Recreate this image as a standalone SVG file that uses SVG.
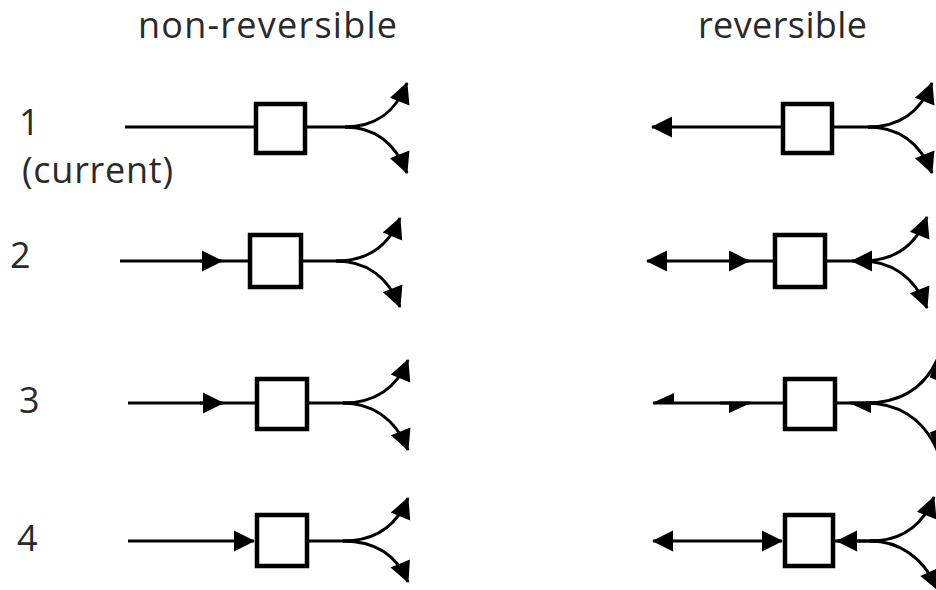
<svg xmlns="http://www.w3.org/2000/svg" width="936" height="590" viewBox="0 0 936 590">
<style>
.t{font-family:"Open Sans","Liberation Sans",sans-serif;font-size:36px;fill:#2a2a2a}
.l{fill:none;stroke:#000;stroke-width:3}
.a{marker-end:url(#arr)}
.p{marker-end:url(#halfP)}
.n{marker-end:url(#halfN)}
.box{fill:#fff;stroke:#000;stroke-width:4.5}
</style>
<defs>
<marker id="arr" markerUnits="userSpaceOnUse" markerWidth="24" markerHeight="24" refX="20" refY="10.5" orient="auto" overflow="visible"><path d="M0,0 L21,10.5 L0,21 z" fill="#000"/></marker>
<marker id="halfP" markerUnits="userSpaceOnUse" markerWidth="24" markerHeight="24" refX="21" refY="10" orient="auto" overflow="visible"><path d="M0,10 L22,10 L0,20 z" fill="#000"/></marker>
<marker id="halfN" markerUnits="userSpaceOnUse" markerWidth="24" markerHeight="24" refX="21" refY="10" orient="auto" overflow="visible"><path d="M0,10 L22,10 L0,0 z" fill="#000"/></marker>
</defs>
<rect width="936" height="590" fill="#fff"/>
<g id="labels">
<text class="t" x="138" y="38" textLength="259">non-reversible</text>
<text class="t" x="698" y="38" textLength="169">reversible</text>
<text class="t" x="19" y="135">1</text>
<text class="t" x="22" y="183" textLength="151">(current)</text>
<text class="t" x="10" y="268">2</text>
<text class="t" x="19" y="413">3</text>
<text class="t" x="17" y="551">4</text>
</g>
<g id="connectors">
<!-- row 1 left -->
<path class="l" d="M125 127 L260 127"/>
<path class="l" d="M300 127 L355 127"/>
<path class="l a" d="M345 127 C372 127,394 116,407 83"/>
<path class="l a" d="M345 127 C372 127,394 140,407 173"/>
<!-- row 1 right -->
<path class="l a" d="M790 127 L652 127"/>
<path class="l" d="M828 127 L878 127"/>
<path class="l a" d="M868 127 C896 127,919 116,932 83"/>
<path class="l a" d="M868 127 C896 127,919 140,932 173"/>
<!-- row 2 left -->
<path class="l" d="M120 261 L255 261"/>
<path class="l a" d="M200 261 L222 261"/>
<path class="l" d="M296 261 L346 261"/>
<path class="l a" d="M336 261 C363 261,387 250,400 218"/>
<path class="l a" d="M336 261 C363 261,387 274,400 307"/>
<!-- row 2 right -->
<path class="l a" d="M700 261 L647 261"/>
<path class="l a" d="M700 261 L749 261"/>
<path class="l" d="M745 261 L780 261"/>
<path class="l" d="M820 261 L873 261"/>
<path class="l a" d="M873 261 L852 261"/>
<path class="l a" d="M862 261 C889 261,914 250,927 217"/>
<path class="l a" d="M862 261 C889 261,914 275,927 308"/>
<!-- row 3 left -->
<path class="l" d="M128 403 L262 403"/>
<path class="l a" d="M200 403 L223 403"/>
<path class="l" d="M302 403 L352 403"/>
<path class="l a" d="M343 403 C370 403,395 392,408 360"/>
<path class="l a" d="M343 403 C370 403,395 417,408 450"/>
<!-- row 3 right -->
<path class="l p" d="M720 403 L653 403"/>
<path class="l" d="M720 403 L790 403"/>
<path class="l p" d="M720 403 L750 403"/>
<path class="l" d="M830 403 L878 403"/>
<path class="l n" d="M878 403 L850 403"/>
<path class="l p" d="M866 403 C895 403,923 392,938 358"/>
<path class="l n" d="M866 403 C895 403,923 416,938 452"/>
<!-- row 4 left -->
<path class="l a" d="M128 541 L254 541"/>
<path class="l" d="M302 541 L352 541"/>
<path class="l a" d="M343 541 C370 541,395 530,408 498"/>
<path class="l a" d="M343 541 C370 541,395 551,408 582"/>
<!-- row 4 right -->
<path class="l a" d="M720 541 L653 541"/>
<path class="l a" d="M720 541 L782 541"/>
<path class="l" d="M830 541 L882 541"/>
<path class="l a" d="M882 541 L837 541"/>
<path class="l a" d="M870 541 C898 541,921 530,934 497"/>
<path class="l a" d="M870 541 C898 541,923 556,938 590"/>
</g>
<g id="box-1-left"><rect class="box" x="256" y="104" width="49" height="49"/></g>
<g id="box-1-right"><rect class="box" x="783" y="104" width="49" height="49"/></g>
<g id="box-2-left"><rect class="box" x="250" y="235" width="51" height="52"/></g>
<g id="box-2-right"><rect class="box" x="775" y="235" width="50" height="52"/></g>
<g id="box-3-left"><rect class="box" x="257" y="379" width="50" height="50"/></g>
<g id="box-3-right"><rect class="box" x="785" y="379" width="50" height="50"/></g>
<g id="box-4-left"><rect class="box" x="257" y="515" width="50" height="51"/></g>
<g id="box-4-right"><rect class="box" x="785" y="515" width="48" height="51"/></g>
</svg>
